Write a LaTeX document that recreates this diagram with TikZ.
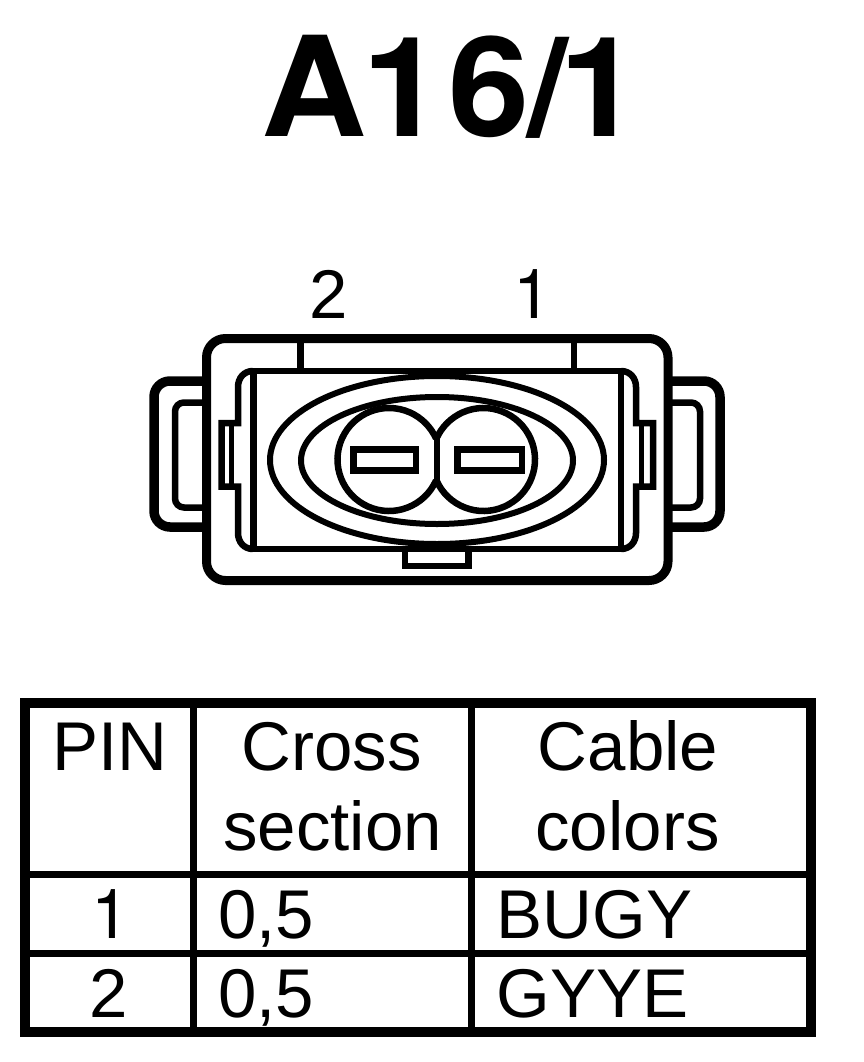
\documentclass[tikz,border=0pt]{standalone}
\usepackage{graphicx}
\usepackage{fontspec}
\setmainfont{Liberation Sans}
\newfontfamily\herosfont{TeX Gyre Heros}
\tikzset{
  txt/.style={inner sep=0pt,outer sep=0pt,anchor=base,font=\fontsize{69pt}{69pt}\selectfont},
  txtl/.style={txt,anchor=base west},
  heavy/.style={line width=9pt},
  ear/.style={line width=9.5pt},
  med/.style={line width=6.5pt},
  gridline/.style={line width=7pt},
  frameline/.style={line width=10pt}
}
\begin{document}
\begin{tikzpicture}[x=1pt,y=-1pt,line join=miter]
\useasboundingbox (0,0) rectangle (864,1062);
% title and pin labels
\node[inner sep=0pt,outer sep=0pt,anchor=base west,font=\fontsize{139pt}{139pt}\selectfont\herosfont\bfseries] (title) at (261,136.7) {\scalebox{1.05}[1]{A\kern-3.5pt 1\kern5pt 6\kern-3pt /\kern-8pt 1}};
\node[txt] (pintwo) at (329,318.3) {2};
\node[txt,font=\fontsize{69pt}{69pt}\selectfont\herosfont] (pinone) at (532.5,318.3) {1};
% latches
\draw[ear,rounded corners=16pt] (206,381) -- (154,381) -- (154,527) -- (206,527);
\draw[ear,rounded corners=16pt] (668,381) -- (720,381) -- (720,527) -- (668,527);
\draw[med,rounded corners=9pt] (206,402.5) -- (175,402.5) -- (175,507.5) -- (206,507.5);
\draw[med,rounded corners=9pt] (668,402.5) -- (700,402.5) -- (700,507.5) -- (668,507.5);
% housing
\draw[heavy,rounded corners=19pt] (206.5,338.5) rectangle (668,580.5);
\draw[med] (300.5,338.5) -- (300.5,371);
\draw[med] (574,338.5) -- (574,371);
% inner body
\draw[med] (253,371) -- (621,371);
\draw[med] (253,549) -- (621,549);
\draw[med] (253.5,368) -- (253.5,552);
\draw[med] (621,368) -- (621,552);
% left cap
\draw[med] (253,371) .. controls (244,371) and (238,378) .. (238,387) -- (238,423) -- (221.5,423) -- (221.5,486.5) -- (238,486.5) -- (238,533) .. controls (238,542) and (244,549) .. (253,549);
\draw[line width=5pt] (231.5,423) -- (231.5,486.5);
% right cap
\draw[med] (621,371) .. controls (630,371) and (636,378) .. (636,387) -- (636,423) -- (653,423) -- (653,486.5) -- (636,486.5) -- (636,533) .. controls (636,542) and (630,549) .. (621,549);
\draw[line width=5pt] (641,423) -- (641,486.5);
% bottom key
\draw[med] (405,549) -- (405,566) -- (468.5,566) -- (468.5,549);
% sealing outlines
\draw[line width=6pt] (437,460) ellipse[x radius=167,y radius=84];
\draw[line width=6pt] (437,460.5) ellipse[x radius=136,y radius=63.5];
% contact chambers
\draw[line width=6.5pt] (389,459.5) ++(24:51.5) arc[start angle=24,end angle=336,radius=51.5];
\draw[line width=6.5pt] (483.5,459.5) ++(156:51.5) arc[start angle=156,end angle=-156,radius=51.5];
\draw[line width=6.5pt] (437,438) -- (437,481);
\draw[med] (353.5,449.5) rectangle (416,470.5);
\draw[med] (457.5,449.5) rectangle (522,470.5);
% table
\draw[gridline] (193.5,703) -- (193.5,1032);
\draw[gridline] (471.5,703) -- (471.5,1032);
\draw[gridline] (25,874.5) -- (811,874.5);
\draw[gridline] (25,953.5) -- (811,953.5);
\draw[frameline] (25,703) rectangle (811,1032);
\node[txt] (hpin) at (110,770.7) {PIN};
\node[txt] (hcross) at (331.7,770.7) {Cross};
\node[txt] (hsection) at (332.5,850) {section};
\node[txt] (hcable) at (628,770.7) {Cable};
\node[txt] (hcolors) at (627.5,850) {colors};
\node[txt,font=\fontsize{69pt}{69pt}\selectfont\herosfont] (rowone) at (111,938) {1};
\node[txtl] (csone) at (218,938) {0,5};
\node[txtl] (colone) at (496.5,938) {BUGY};
\node[txt] (rowtwo) at (108.5,1017.3) {2};
\node[txtl] (cstwo) at (218,1017.3) {0,5};
\node[txtl] (coltwo) at (496.5,1017.3) {GYYE};
\end{tikzpicture}
\end{document}
